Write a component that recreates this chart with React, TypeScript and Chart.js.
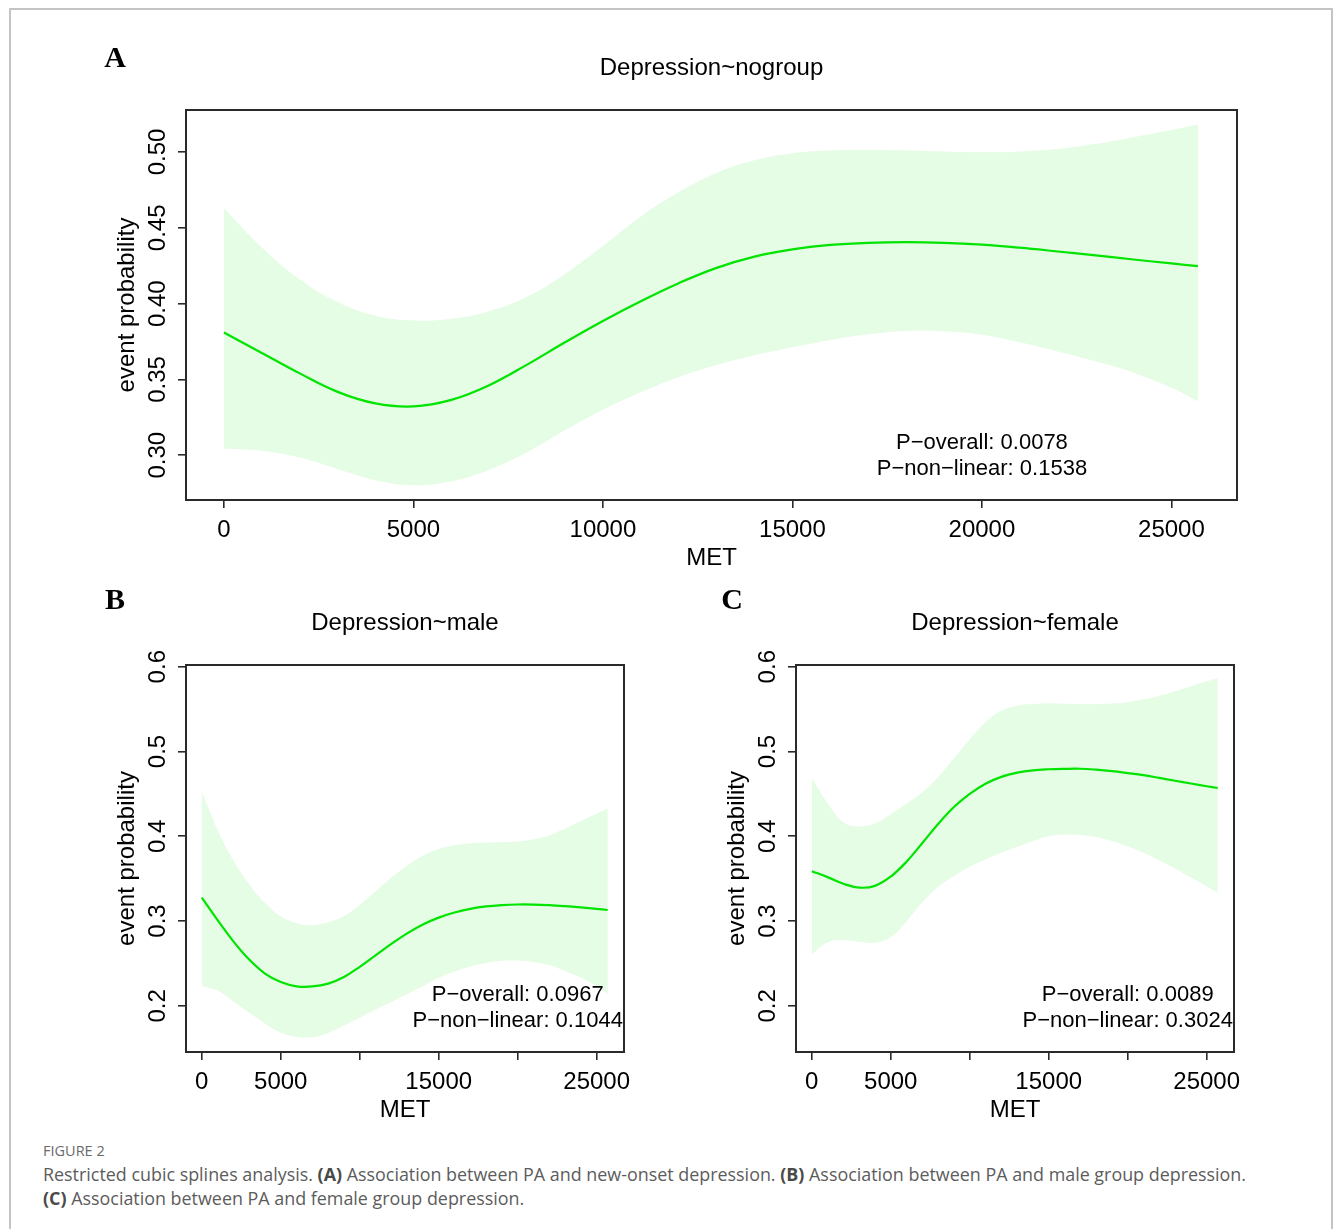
import React, { useEffect, useRef } from "react";
import { Chart, registerables } from "chart.js";

Chart.register(...registerables);

const FONT = '"Liberation Sans", Arial, Helvetica, sans-serif';

// MET grid (x values) shared by every curve
const MET = [0, 1000, 2000, 3000, 4000, 5000, 6000, 7000, 8000, 9000, 10000, 11000, 12000, 13000, 14000, 15000, 16000, 17000, 18000, 19000, 20000, 21000, 22000, 23000, 24000, 25000, 25700];

// Panel A: Depression~nogroup
const A_FIT = [0.381, 0.3675, 0.354, 0.3418, 0.3342, 0.3322, 0.3365, 0.3462, 0.3598, 0.3745, 0.3886, 0.4016, 0.4135, 0.4236, 0.431, 0.4358, 0.4387, 0.4401, 0.4405, 0.4401, 0.4389, 0.4369, 0.4344, 0.4318, 0.4291, 0.4265, 0.4247];
const A_UPPER = [0.463, 0.437, 0.416, 0.401, 0.392, 0.3888, 0.39, 0.395, 0.4045, 0.4195, 0.438, 0.4575, 0.4735, 0.4862, 0.4945, 0.4992, 0.501, 0.5013, 0.501, 0.5003, 0.4998, 0.5003, 0.502, 0.5053, 0.5098, 0.5145, 0.5182];
const A_LOWER = [0.3045, 0.303, 0.2985, 0.291, 0.2835, 0.2802, 0.2828, 0.2905, 0.302, 0.3165, 0.33, 0.3415, 0.3515, 0.3595, 0.366, 0.3712, 0.376, 0.3798, 0.382, 0.3818, 0.3795, 0.3745, 0.3685, 0.362, 0.3545, 0.3445, 0.3357];

// Panel B: Depression~male
const B_FIT = [0.3275, 0.301, 0.276, 0.2545, 0.238, 0.228, 0.223, 0.2228, 0.2262, 0.234, 0.246, 0.2595, 0.273, 0.2855, 0.296, 0.304, 0.31, 0.3143, 0.3172, 0.3188, 0.3195, 0.3194, 0.3187, 0.3175, 0.316, 0.3143, 0.313];
const B_UPPER = [0.4529, 0.4075, 0.3715, 0.3435, 0.3215, 0.3055, 0.2975, 0.295, 0.2985, 0.306, 0.319, 0.335, 0.351, 0.3655, 0.377, 0.385, 0.3895, 0.3915, 0.3925, 0.393, 0.3938, 0.3965, 0.401, 0.409, 0.418, 0.4265, 0.4326];
const B_LOWER = [0.2235, 0.218, 0.2052, 0.1921, 0.1792, 0.1684, 0.1635, 0.163, 0.168, 0.1768, 0.186, 0.1955, 0.2045, 0.214, 0.2232, 0.233, 0.2405, 0.2465, 0.2505, 0.253, 0.2535, 0.2515, 0.248, 0.241, 0.233, 0.223, 0.2138];

// Panel C: Depression~female
const C_FIT = [0.3588, 0.3518, 0.344, 0.3394, 0.3415, 0.3525, 0.37, 0.392, 0.4145, 0.4345, 0.45, 0.462, 0.47, 0.475, 0.4778, 0.479, 0.4795, 0.4796, 0.4785, 0.4768, 0.4745, 0.472, 0.4688, 0.4655, 0.4622, 0.459, 0.4569];
const C_UPPER = [0.4686, 0.439, 0.4165, 0.4115, 0.415, 0.426, 0.4385, 0.452, 0.47, 0.492, 0.5145, 0.5345, 0.548, 0.554, 0.556, 0.5565, 0.5563, 0.5558, 0.5557, 0.5565, 0.5582, 0.5615, 0.5655, 0.571, 0.577, 0.5825, 0.5863];
const C_LOWER = [0.2608, 0.275, 0.2772, 0.2755, 0.2745, 0.281, 0.2995, 0.322, 0.34, 0.353, 0.364, 0.3725, 0.3805, 0.3875, 0.3945, 0.4, 0.402, 0.4015, 0.399, 0.3945, 0.388, 0.3805, 0.3715, 0.362, 0.3515, 0.341, 0.3333];

// Axes
const X_TICKS = [0, 5000, 10000, 15000, 20000, 25000];
const X_LABELS_A = ["0", "5000", "10000", "15000", "20000", "25000"];
const X_LABELS_BC = ["0", "5000", "", "15000", "", "25000"];
const Y_TICKS_A = [0.3, 0.35, 0.4, 0.45, 0.5];
const Y_LABELS_A = ["0.30", "0.35", "0.40", "0.45", "0.50"];
const Y_TICKS_BC = [0.2, 0.3, 0.4, 0.5, 0.6];
const Y_LABELS_BC = ["0.2", "0.3", "0.4", "0.5", "0.6"];

const TITLES = ["Depression~nogroup", "Depression~male", "Depression~female"];
const P_OVERALL = ["0.0078", "0.0967", "0.0089"];
const P_NONLINEAR = ["0.1538", "0.1044", "0.3024"];
const P_TEXT_X = 20000;

const LINE_COLOR = "#00e400";
const BAND_COLOR = "#e5fce5";
const AXIS_COLOR = "#2a2a2a";

type PanelCfg = {
  left: number; top: number; width: number; height: number;
  padLeft: number; padRight: number; padTop: number;
  yAxisWidth: number; xAxisHeight: number;
  yMin: number; yMax: number;
  yTicks: number[]; yLabels: string[]; xLabels: string[];
  yTickPad: number; xTitlePad: number;
  fit: number[]; upper: number[]; lower: number[];
  idx: number;
};

const PANELS: PanelCfg[] = [
  {
    left: 0, top: 0, width: 1333, height: 590,
    padLeft: 100, padRight: 96, padTop: 110, yAxisWidth: 86, xAxisHeight: 90,
    yMin: 0.2705, yMax: 0.5277, yTicks: Y_TICKS_A, yLabels: Y_LABELS_A, xLabels: X_LABELS_A,
    yTickPad: -3.3, xTitlePad: 17.6, fit: A_FIT, upper: A_UPPER, lower: A_LOWER, idx: 0,
  },
  {
    left: 0, top: 580, width: 660, height: 560,
    padLeft: 100, padRight: 36, padTop: 85, yAxisWidth: 86, xAxisHeight: 88,
    yMin: 0.1455, yMax: 0.602, yTicks: Y_TICKS_BC, yLabels: Y_LABELS_BC, xLabels: X_LABELS_BC,
    yTickPad: 3.3, xTitlePad: 15.6, fit: B_FIT, upper: B_UPPER, lower: B_LOWER, idx: 1,
  },
  {
    left: 660, top: 580, width: 673, height: 560,
    padLeft: 50, padRight: 99, padTop: 85, yAxisWidth: 86, xAxisHeight: 88,
    yMin: 0.1455, yMax: 0.602, yTicks: Y_TICKS_BC, yLabels: Y_LABELS_BC, xLabels: X_LABELS_BC,
    yTickPad: 3.3, xTitlePad: 15.6, fit: C_FIT, upper: C_UPPER, lower: C_LOWER, idx: 2,
  },
];

const toPoints = (ys: number[]) => MET.map((x, i) => ({ x, y: ys[i] }));

function Panel({ cfg }: { cfg: PanelCfg }) {
  const ref = useRef<HTMLCanvasElement | null>(null);

  useEffect(() => {
    const canvas = ref.current;
    if (!canvas) return;

    const annotPlugin = {
      id: "rAnnot",
      afterDraw(chart: any) {
        const { ctx, chartArea: ca, scales } = chart;
        ctx.save();
        ctx.strokeStyle = AXIS_COLOR;
        ctx.lineWidth = 2;
        ctx.strokeRect(ca.left, ca.top, ca.right - ca.left, ca.bottom - ca.top);
        ctx.fillStyle = "#000";
        ctx.textAlign = "center";
        ctx.textBaseline = "middle";
        ctx.font = `24px ${FONT}`;
        ctx.fillText(TITLES[cfg.idx], (ca.left + ca.right) / 2, ca.top - 42);
        ctx.font = `22px ${FONT}`;
        const px = scales.x.getPixelForValue(P_TEXT_X);
        ctx.fillText(`P\u2212overall: ${P_OVERALL[cfg.idx]}`, px, ca.bottom - 57);
        ctx.fillText(`P\u2212non\u2212linear: ${P_NONLINEAR[cfg.idx]}`, px, ca.bottom - 31);
        ctx.restore();
      },
    };

    const gridOpts = {
      drawOnChartArea: false,
      drawTicks: true,
      tickLength: 8,
      color: AXIS_COLOR,
      lineWidth: 1.6,
    };

    const chart = new Chart(canvas, {
      type: "line",
      data: {
        datasets: [
          {
            label: "upper",
            data: toPoints(cfg.upper),
            borderWidth: 0,
            borderColor: "rgba(0,0,0,0)",
            backgroundColor: BAND_COLOR,
            pointRadius: 0,
            fill: "+1",
            tension: 0.4,
            order: 2,
          },
          {
            label: "lower",
            data: toPoints(cfg.lower),
            borderWidth: 0,
            borderColor: "rgba(0,0,0,0)",
            backgroundColor: BAND_COLOR,
            pointRadius: 0,
            fill: false,
            tension: 0.4,
            order: 3,
          },
          {
            label: "fit",
            data: toPoints(cfg.fit),
            borderWidth: 2.2,
            borderColor: LINE_COLOR,
            pointRadius: 0,
            fill: false,
            tension: 0.4,
            order: 0,
          },
        ],
      },
      options: {
        responsive: false,
        animation: false,
        events: [],
        layout: { padding: { left: cfg.padLeft, right: cfg.padRight, top: cfg.padTop, bottom: 0 } },
        plugins: {
          legend: { display: false },
          tooltip: { enabled: false },
          title: { display: false },
          filler: { drawTime: "beforeDatasetsDraw" },
        },
        scales: {
          x: {
            type: "linear",
            position: "bottom",
            min: -1000,
            max: 26730,
            bounds: "data",
            afterBuildTicks: (s: any) => {
              s.ticks = X_TICKS.map((v) => ({ value: v }));
            },
            afterFit: (s: any) => {
              s.height = cfg.xAxisHeight;
            },
            ticks: {
              autoSkip: false,
              maxRotation: 0,
              minRotation: 0,
              padding: 7.5,
              color: "#000",
              font: { size: 24, family: FONT },
              callback: (_v: any, i: number) => cfg.xLabels[i],
            },
            grid: gridOpts,
            border: { display: false },
            title: {
              display: true,
              text: "MET",
              color: "#000",
              font: { size: 24, family: FONT },
              padding: { top: 0, bottom: cfg.xTitlePad },
            },
          },
          y: {
            type: "linear",
            position: "left",
            min: cfg.yMin,
            max: cfg.yMax,
            bounds: "data",
            afterBuildTicks: (s: any) => {
              s.ticks = cfg.yTicks.map((v) => ({ value: v }));
            },
            afterFit: (s: any) => {
              s.width = cfg.yAxisWidth;
            },
            ticks: {
              autoSkip: false,
              minRotation: 90,
              maxRotation: 90,
              crossAlign: "center",
              padding: cfg.yTickPad,
              color: "#000",
              font: { size: 24, family: FONT },
              callback: (_v: any, i: number) => cfg.yLabels[i],
            },
            grid: gridOpts,
            border: { display: false },
            title: {
              display: true,
              text: "event probability",
              color: "#000",
              font: { size: 24, family: FONT },
              padding: { top: 12.6, bottom: 0 },
            },
          },
        },
      } as any,
      plugins: [annotPlugin],
    });

    return () => chart.destroy();
  }, [cfg]);

  return (
    <canvas
      ref={ref}
      width={cfg.width}
      height={cfg.height}
      style={{ position: "absolute", left: cfg.left, top: cfg.top, width: cfg.width, height: cfg.height }}
    />
  );
}

const LETTERS = [
  { text: "A", x: 115, y: 57 },
  { text: "B", x: 115, y: 599 },
  { text: "C", x: 732, y: 599 },
];

export default function App() {
  const capStyle: React.CSSProperties = {
    position: "absolute",
    left: 43,
    fontFamily: '"Open Sans", "Noto Sans", sans-serif',
    color: "#5c5c5c",
    whiteSpace: "nowrap",
  };
  const bold: React.CSSProperties = { fontWeight: 700, color: "#4a4a4a" };
  return (
    <div style={{ position: "absolute", left: 0, top: 0, width: 1333, height: 1229, overflow: "hidden", background: "#fff" }}>
      <div
        style={{
          position: "absolute",
          left: 9,
          top: 8,
          width: 1324,
          height: 1300,
          border: "2px solid #c4c4c4",
          boxSizing: "border-box",
        }}
      />
      {PANELS.map((p) => (
        <Panel key={p.idx} cfg={p} />
      ))}
      {LETTERS.map((l) => (
        <div
          key={l.text}
          style={{
            position: "absolute",
            left: l.x - 20,
            top: l.y - 15,
            width: 40,
            textAlign: "center",
            fontFamily: '"Liberation Serif", "Times New Roman", serif',
            fontWeight: 700,
            fontSize: 30,
            lineHeight: "30px",
          }}
        >
          {l.text}
        </div>
      ))}
      <div style={{ ...capStyle, top: 1141, fontSize: 14.5, lineHeight: "20px", color: "#6a6a6a" }}>FIGURE 2</div>
      <div style={{ ...capStyle, top: 1162, fontSize: 17.9, lineHeight: "24px" }}>
        Restricted cubic splines analysis. <span style={bold}>(A)</span> Association between PA and new-onset depression.{" "}
        <span style={bold}>(B)</span> Association between PA and male group depression.
        <br />
        <span style={bold}>(C)</span> Association between PA and female group depression.
      </div>
    </div>
  );
}
